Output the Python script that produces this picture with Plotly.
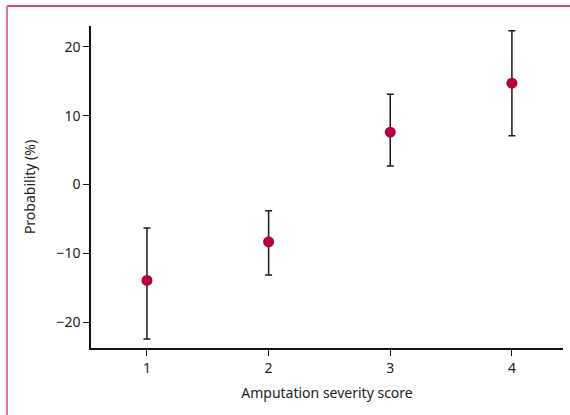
import plotly.graph_objects as go

scores = [1, 2, 3, 4]
probability = [-13.9, -8.3, 7.6, 14.7]
ci_upper = [-6.3, -3.8, 13.1, 22.3]
ci_lower = [-22.4, -13.1, 2.7, 7.1]
x_ticks = [1, 2, 3, 4]
y_ticks = [-20, -10, 0, 10, 20]
y_tick_labels = ["\u221220", "\u221210", "0", "10", "20"]

err_plus = [u - p for u, p in zip(ci_upper, probability)]
err_minus = [p - l for p, l in zip(probability, ci_lower)]

fig = go.Figure()
fig.add_trace(go.Scatter(
    x=scores, y=probability, mode="markers",
    marker=dict(color="#b5003a", size=11),
    error_y=dict(type="data", symmetric=False, array=err_plus, arrayminus=err_minus,
                 color="#1a1a1a", thickness=1.5, width=3.5),
    showlegend=False,
))

font = "Noto Sans, Open Sans, sans-serif"
fig.update_layout(
    width=570, height=415,
    margin=dict(l=91, r=7, t=26, b=67),
    plot_bgcolor="white", paper_bgcolor="white",
    font=dict(family=font, size=13, color="#222"),
    xaxis=dict(range=[0.54, 4.42], tickvals=x_ticks, ticks="outside", ticklen=6,
               tickcolor="#111", showline=True, linecolor="#111", linewidth=1.5,
               showgrid=False, zeroline=False, tickfont=dict(size=14),
               title=dict(text="Amputation severity score", standoff=13, font=dict(size=14))),
    yaxis=dict(range=[-23.7, 23.0], tickvals=y_ticks, ticktext=y_tick_labels,
               ticks="outside", ticklen=6, tickcolor="#111", showline=True,
               linecolor="#111", linewidth=1.5, showgrid=False, zeroline=False,
               tickfont=dict(size=14),
               title=dict(text="Probability (%)", standoff=18, font=dict(size=14))),
    shapes=[
        dict(type="line", xref="paper", yref="paper", x0=-0.178, x1=1.02,
             y0=1.0621, y1=1.0621, line=dict(color="#d04a70", width=2)),
        dict(type="line", xref="paper", yref="paper", x0=-0.178, x1=-0.178,
             y0=1.0621, y1=-0.25, line=dict(color="#dc7896", width=2)),
    ],
)

fig.write_html("out.html", config={"displayModeBar": False},
               post_script="document.body.style.margin='0px';")
